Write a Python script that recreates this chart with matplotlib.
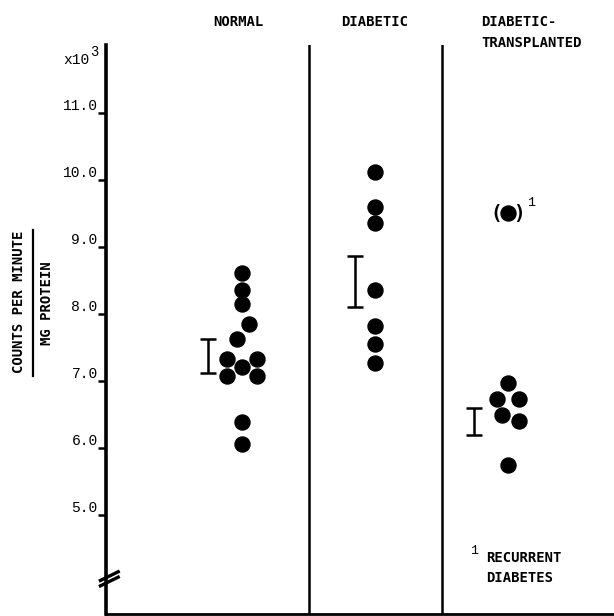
import matplotlib
matplotlib.use("Agg")
import matplotlib.pyplot as plt
from matplotlib.lines import Line2D
from matplotlib.transforms import blended_transform_factory

# ---- data (counts per minute / mg protein, x10^3) ----
groups = ["NORMAL", "DIABETIC", "DIABETIC-\nTRANSPLANTED"]
normal_vals = [8.62, 8.37, 8.15, 7.86, 7.64, 7.33, 7.33, 7.22, 7.08, 7.08, 6.40, 6.07]
diabetic_vals = [10.12, 9.61, 9.37, 8.37, 7.82, 7.56, 7.27]
transpl_vals = [6.97, 6.74, 6.74, 6.50, 6.41, 5.75]
recurrent_val = [9.51]
means = [7.38, 8.49, 6.40]
sems = [0.25, 0.38, 0.205]
ytick_vals = [5.0, 6.0, 7.0, 8.0, 9.0, 10.0, 11.0]
ytick_labels = ["5.0", "6.0", "7.0", "8.0", "9.0", "10.0", "11.0"]

# ---- layout (horizontal spreading of overlapping dots) ----
normal_off = [0, 0, 0, 0.05, -0.035, -0.115, 0.115, 0, -0.115, 0.115, 0, 0]
diabetic_off = [0] * len(diabetic_vals)
transpl_off = [0, -0.085, 0.085, -0.045, 0.085, 0]
err_off = [-0.255, -0.15, -0.256]

W, H = 614, 616
fig = plt.figure(figsize=(W / 100, H / 100), dpi=100)
ax = fig.add_axes([106 / W, 2 / H, (W - 106) / W, (614 - 45) / H])

mono = "DejaVu Sans Mono"
tick_font = "Liberation Mono"
tw = "bold"

dot = dict(marker="o", ms=10.8, color="black", ls="none")
for gi, (vals, offs) in enumerate([(normal_vals, normal_off),
                                    (diabetic_vals, diabetic_off),
                                    (transpl_vals, transpl_off)]):
    xs = [gi + 1 + o for o in offs]
    ax.plot(xs, vals, **dot)
ax.plot([3] * len(recurrent_val), recurrent_val, **dot)
ax.text(3 - 0.085, recurrent_val[0], "(", ha="center", va="center",
        fontsize=14, fontweight="bold", family="DejaVu Sans Mono")
ax.text(3 + 0.085, recurrent_val[0], ")", ha="center", va="center",
        fontsize=14, fontweight="bold", family="DejaVu Sans Mono")
ax.annotate("1", (3, recurrent_val[0]), xytext=(14, 7), textcoords="offset points",
            ha="left", va="center", fontsize=9.5, family=tick_font)

# error bars (mean +/- SEM)
ex = [i + 1 + o for i, o in enumerate(err_off)]
ax.errorbar(ex, means, yerr=sems, fmt="none", ecolor="black",
            elinewidth=1.8, capsize=5.8, capthick=1.8)

# group separators
for xs in [1.5, 2.5]:
    ax.axvline(xs, color="black", lw=1.8)

ax.set_xlim(-0.023, 3.797)
ax.set_ylim(3.53, 12.02)
ax.set_xticks([])
ax.set_yticks(ytick_vals)
ax.set_yticklabels(ytick_labels, family=tick_font, fontsize=10.5)
for lab in ax.get_yticklabels():
    lab.set_verticalalignment("bottom")
ax.tick_params(axis="y", direction="out", length=6, width=1.8, pad=0)

for s in ["top", "right"]:
    ax.spines[s].set_visible(False)
ax.spines["left"].set_linewidth(2.6)
ax.spines["bottom"].set_linewidth(2.0)

# axis break marks
bt = blended_transform_factory(ax.transAxes, ax.transData)
for dy in [0.0, -0.08]:
    ax.plot([-0.011, 0.024], [4.03 + dy, 4.16 + dy], color="black", lw=2.4,
            transform=bt, clip_on=False)

# headers
tx = blended_transform_factory(ax.transData, fig.transFigure)
hdr = dict(transform=tx, va="center", family=mono, fontsize=10, fontweight=tw)
ax.text(0.97, 1 - 22 / H, "NORMAL", ha="center", **hdr)
ax.text(2.0, 1 - 22 / H, "DIABETIC", ha="center", **hdr)
ax.text(2.80, 1 - 22 / H, "DIABETIC-", ha="left", **hdr)
ax.text(2.80, 1 - 43 / H, "TRANSPLANTED", ha="left", **hdr)

# x10^3
fig.text(90 / W, 1 - 64 / H, "x10", ha="right", va="baseline", family=tick_font, fontsize=10.5)
fig.text(90 / W, 1 - 56 / H, "3", ha="left", va="baseline", family=tick_font, fontsize=10)

# y label as a fraction
fig.text(19 / W, 1 - 302 / H, "COUNTS PER MINUTE", rotation=90, ha="center",
         va="center", family=mono, fontsize=10, fontweight=tw)
fig.text(47 / W, 1 - 303 / H, "MG PROTEIN", rotation=90, ha="center",
         va="center", family=mono, fontsize=10, fontweight=tw)
fig.add_artist(Line2D([33 / W, 33 / W], [1 - 230 / H, 1 - 376 / H],
                      transform=fig.transFigure, color="black", lw=1.6))

# footnote
fig.text(470 / W, 1 - 551 / H, "1", ha="left", va="center", family=tick_font, fontsize=9.5)
fig.text(486 / W, 1 - 558 / H, "RECURRENT", ha="left", va="center", family=mono,
         fontsize=10, fontweight=tw)
fig.text(486 / W, 1 - 578 / H, "DIABETES", ha="left", va="center", family=mono,
         fontsize=10, fontweight=tw)

fig.savefig("out.png", dpi=100)
